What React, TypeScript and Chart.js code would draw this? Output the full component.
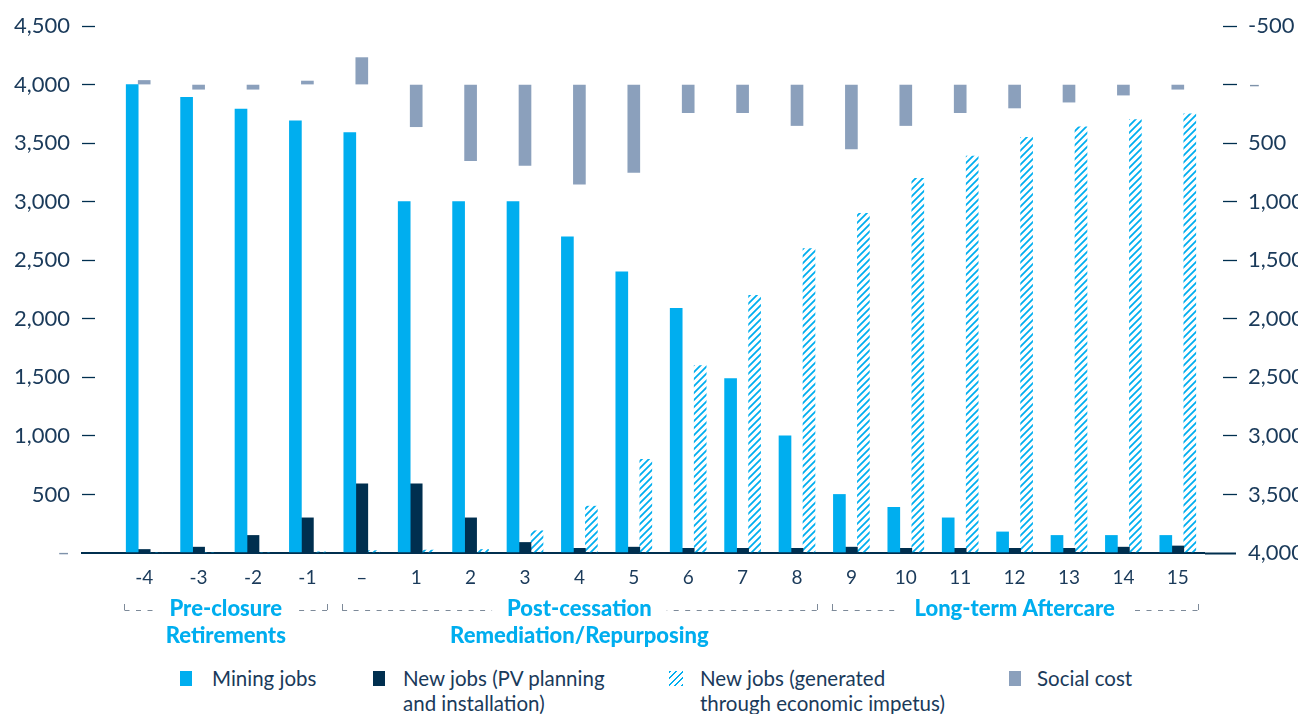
import React, { useEffect, useRef } from "react";
import { Chart, registerables } from "chart.js";

Chart.register(...registerables);

const categories = ["-4", "-3", "-2", "-1", "–", "1", "2", "3", "4", "5", "6", "7", "8", "9", "10", "11", "12", "13", "14", "15"];
const miningJobs = [4000, 3890, 3790, 3690, 3590, 3000, 3000, 3000, 2700, 2400, 2090, 1490, 1000, 500, 390, 300, 180, 150, 150, 150];
const pvJobs = [30, 50, 150, 300, 590, 590, 300, 90, 40, 50, 40, 40, 40, 50, 40, 40, 40, 40, 50, 60];
const impetusJobs = [0, 0, 0, 10, 20, 25, 30, 190, 400, 800, 1600, 2200, 2600, 2900, 3200, 3390, 3550, 3640, 3700, 3750];
const socialCost = [-35, 40, 40, -30, -230, 360, 650, 690, 850, 750, 240, 240, 350, 550, 350, 240, 200, 150, 90, 40];

const phaseNames = [["Pre-closure", "Retirements"], ["Post-cessation", "Remediation/Repurposing"], ["Long-term Aftercare"]];
const phaseStart = [0, 4, 13];
const phaseEnd = [3, 12, 19];

const legendLabels = [["Mining jobs"], ["New jobs (PV planning", "and installation)"], ["New jobs (generated", "through economic impetus)"], ["Social cost"]];

const CYAN = "#00AEEF";
const NAVY = "#002F4F";
const SOCIAL = "#8BA0BC";
const TEXT = "#1A3A5A";
const LIGHT = "#7E92AA";
const DASH = "#7D8A99";
const FONT = "Lato, 'Open Sans', sans-serif";

function makeHatch(): CanvasPattern | string {
  const s = 7;
  const c = document.createElement("canvas");
  c.width = s;
  c.height = s;
  const g = c.getContext("2d");
  if (!g) return CYAN;
  g.strokeStyle = CYAN;
  g.lineWidth = 1.8;
  g.beginPath();
  g.moveTo(-1, s + 1);
  g.lineTo(s + 1, -1);
  g.moveTo(-2, 2);
  g.lineTo(2, -2);
  g.moveTo(s - 2, s + 2);
  g.lineTo(s + 2, s - 2);
  g.stroke();
  const p = g.createPattern(c, "repeat");
  return p || CYAN;
}

const phasePlugin = {
  id: "phases",
  afterDraw(chart: any) {
    const ctx = chart.ctx;
    const x = chart.scales.x;
    const half = (x.getPixelForValue(1) - x.getPixelForValue(0)) / 2;
    const lineY = 602;
    ctx.save();
    ctx.font = `900 22px ${FONT}`;
    ctx.textAlign = "center";
    ctx.textBaseline = "middle";
    for (let i = 0; i < phaseNames.length; i++) {
      const x0 = x.getPixelForValue(phaseStart[i]) - half + 7.5;
      const x1 = x.getPixelForValue(phaseEnd[i]) + half - 7.5;
      const cx = (x0 + x1) / 2;
      const tw = ctx.measureText(phaseNames[i][0]).width;
      const gap = 15;
      ctx.strokeStyle = DASH;
      ctx.lineWidth = 1;
      ctx.setLineDash([5, 6.5]);
      ctx.beginPath();
      ctx.moveTo(x0, lineY + 0.5);
      ctx.lineTo(cx - tw / 2 - gap, lineY + 0.5);
      ctx.stroke();
      ctx.beginPath();
      ctx.moveTo(x1, lineY + 0.5);
      ctx.lineTo(cx + tw / 2 + gap, lineY + 0.5);
      ctx.stroke();
      ctx.setLineDash([]);
      ctx.beginPath();
      ctx.moveTo(Math.round(x0) + 0.5, lineY - 6);
      ctx.lineTo(Math.round(x0) + 0.5, lineY);
      ctx.moveTo(Math.round(x1) + 0.5, lineY - 6);
      ctx.lineTo(Math.round(x1) + 0.5, lineY);
      ctx.stroke();
      ctx.fillStyle = CYAN;
      phaseNames[i].forEach((t, k) => ctx.fillText(t, cx, lineY - 1 + k * 27));
    }
    ctx.restore();
  },
};

function LegendSwatch({ kind }: { kind: number }) {
  const base: React.CSSProperties = { position: "absolute", left: 0, top: 5, width: 12, height: 15 };
  if (kind === 0) return <div style={{ ...base, background: CYAN }} />;
  if (kind === 1) return <div style={{ ...base, background: NAVY }} />;
  if (kind === 2)
    return (
      <div
        style={{
          ...base,
          width: 14,
          background: `repeating-linear-gradient(135deg, ${CYAN} 0px, ${CYAN} 1.6px, transparent 1.6px, transparent 4.6px)`,
        }}
      />
    );
  return <div style={{ ...base, background: SOCIAL }} />;
}

const isZero = (c: any, v: number) => c.tick && c.tick.value === v;

export default function App() {
  const ref = useRef<HTMLCanvasElement | null>(null);

  useEffect(() => {
    if (!ref.current) return;
    const hatch = makeHatch();
    const chart = new Chart(ref.current, {
      type: "bar",
      data: {
        labels: categories,
        datasets: [
          { label: "Mining jobs", data: miningJobs, backgroundColor: CYAN, yAxisID: "y", barThickness: 12 },
          { label: "New jobs (PV planning and installation)", data: pvJobs, backgroundColor: NAVY, yAxisID: "y", barThickness: 12 },
          { label: "New jobs (generated through economic impetus)", data: impetusJobs, backgroundColor: hatch as any, yAxisID: "y", barThickness: 12 },
          { label: "Social cost", data: socialCost, backgroundColor: SOCIAL, yAxisID: "y1", barThickness: 12, grouped: false } as any,
        ],
      },
      options: {
        animation: false,
        responsive: false,
        maintainAspectRatio: false,
        layout: { padding: { top: 18, left: 0, right: 0, bottom: 0 } },
        plugins: { legend: { display: false }, tooltip: { enabled: false } },
        scales: {
          x: {
            type: "category",
            offset: true,
            grid: { display: false, drawTicks: false },
            border: { display: false },
            ticks: {
              font: { family: FONT, size: 19 },
              color: TEXT,
              padding: 13,
              autoSkip: false,
              maxRotation: 0,
            },
            afterFit: (s: any) => {
              s.height = 110;
            },
          },
          y: {
            position: "left",
            min: 0,
            max: 4500,
            border: { display: false },
            grid: {
              drawOnChartArea: true,
              color: (c: any) => (isZero(c, 0) ? NAVY : "rgba(0,0,0,0)"),
              lineWidth: (c: any) => (isZero(c, 0) ? 2 : 1),
              tickLength: 47,
              tickColor: NAVY,
              tickWidth: (c: any) => (isZero(c, 0) ? 2 : 1.3),
              tickBorderDash: (c: any) => (isZero(c, 0) ? [36, 11] : [13, 34]),
              tickBorderDashOffset: (c: any) => (isZero(c, 0) ? 36 : 35),
            } as any,
            ticks: {
              stepSize: 500,
              padding: 0,
              font: { family: FONT, size: 22 },
              color: (c: any) => (isZero(c, 0) ? LIGHT : TEXT),
              callback: (v: any) => (Number(v) === 0 ? "–" : Number(v).toLocaleString("en-US")),
            },
            afterFit: (s: any) => {
              s.width = 109;
            },
          },
          y1: {
            position: "right",
            min: -500,
            max: 4000,
            reverse: true,
            border: { display: false },
            grid: {
              drawOnChartArea: false,
              tickLength: 43,
              tickColor: NAVY,
              tickWidth: (c: any) => (isZero(c, 4000) ? 2 : 1.3),
              tickBorderDash: (c: any) => (isZero(c, 4000) ? [31, 12] : [14, 29]),
              tickBorderDashOffset: (c: any) => (isZero(c, 4000) ? 0 : 25),
            } as any,
            ticks: {
              stepSize: 500,
              padding: 0,
              font: { family: FONT, size: 22 },
              color: (c: any) => (isZero(c, 0) ? LIGHT : TEXT),
              callback: (v: any) => (Number(v) === 0 ? "–" : Number(v).toLocaleString("en-US")),
            },
            afterFit: (s: any) => {
              s.width = 101;
            },
          },
        },
      },
      plugins: [phasePlugin],
    } as any);
    return () => chart.destroy();
  }, []);

  const legendX = [172, 365, 661, 1001];
  const textOffset = [32, 30, 31, 28];

  return (
    <div style={{ position: "relative", width: 1298, height: 706, fontFamily: FONT }}>
      <style>{"html,body{overflow:hidden}"}</style>
      <canvas ref={ref} width={1298} height={655} style={{ display: "block", width: 1298, height: 655 }} />
      {legendLabels.map((lines, i) => (
        <div key={i} style={{ position: "absolute", left: legendX[i], top: 658, height: 48 }}>
          <LegendSwatch kind={i} />
          <div
            style={{
              position: "absolute",
              left: textOffset[i],
              top: 0,
              whiteSpace: "nowrap",
              fontSize: 20.5,
              lineHeight: "25px",
              color: TEXT,
            }}
          >
            {lines.map((l, k) => (
              <div key={k}>{l}</div>
            ))}
          </div>
        </div>
      ))}
    </div>
  );
}
